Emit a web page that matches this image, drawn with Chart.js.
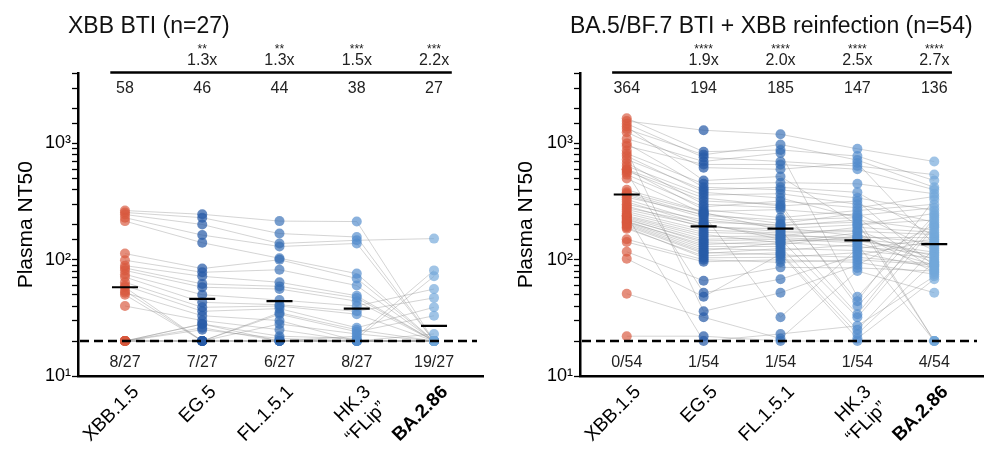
<!DOCTYPE html>
<html><head><meta charset="utf-8">
<script src="https://cdn.jsdelivr.net/npm/chart.js@4.4.0/dist/chart.umd.min.js"></script>
<style>
html,body{margin:0;padding:0;background:#fff;}
#wrap{display:flex;width:1000px;height:452px;}
canvas{display:block;}
</style></head><body>
<div id="wrap"><canvas id="c1" width="500" height="452"></canvas><canvas id="c2" width="500" height="452"></canvas></div>
<script>
// ---------- data ----------
const categories = ['XBB.1.5', 'EG.5', 'FL.1.5.1', ['HK.3', '\u201CFLip\u201D'], 'BA.2.86'];
const yTickLabels = {1: '10\u00B9', 2: '10\u00B2', 3: '10\u00B3'};
const lod = 20;

// Left panel: XBB BTI (n=27) - values per participant (same index = same person)
const leftTitle = 'XBB BTI (n=27)';
const L_XBB15 = [265,255,245,230,215,113,99,89,85,81,75,71,64,60,58,54,52,50,40,20,20,20,20,20,20,20,20];
const L_EG5   = [246,230,201,163,140,84,78,72,62,58,50,43,39,36,20,20,33,20,30,28,28,26,25,20,20,20,20];
const L_FL151 = [215,168,138,130,103,100,82,64,59,56,45,41,40,38,35,34,30,28,25,20,22,20,21,20,20,20,20];
const L_HK3   = [213,157,147,138,76,69,60,49,47,44,40,36,34,26,25,24,20,23,20,22,21,20,20,20,20,20,20];
const L_BA286 = [20,20,152,20,20,20,20,20,20,20,56,47,20,39,20,33,23,20,20,81,72,20,20,20,20,20,20];
const leftGM    = [58, 46, 44, 38, 27];
const leftFold  = ['', '1.3x', '1.3x', '1.5x', '2.2x'];
const leftStars = ['', '**', '**', '***', '***'];
const leftBelow = ['8/27', '7/27', '6/27', '8/27', '19/27'];

// Right panel: BA.5/BF.7 BTI + XBB reinfection (n=54)
const rightTitle = 'BA.5/BF.7 BTI + XBB reinfection (n=54)';
const R_XBB15 = [1650,1560,1480,1400,1330,1250,1100,1000,950,870,820,780,730,680,640,600,600,580,560,540,500,400,380,370,360,345,330,315,300,290,280,270,260,250,240,240,235,230,225,220,215,212,210,205,200,195,190,185,150,142,117,102,51,22];
const R_EG5   = [850,1300,760,480,800,620,700,420,660,36,450,380,400,300,360,340,270,320,52,285,250,260,255,240,230,245,210,200,220,190,205,195,180,172,165,20,158,150,140,145,130,135,125,120,116,113,104,108,100,96,66,48,32,22];
const R_FL151 = [880,1200,700,520,980,600,830,400,660,52,460,340,420,280,370,290,230,300,68,320,205,270,180,220,195,32,200,160,190,185,150,175,170,165,140,23,160,155,135,150,130,145,120,140,110,125,105,115,95,100,86,112,21,20];
const R_HK3   = [780,900,640,200,720,680,48,340,600,90,450,230,380,44,300,320,265,40,110,280,250,240,34,230,220,125,210,190,160,200,32,180,175,150,170,27,155,145,160,140,25,150,135,130,105,120,115,23,100,95,85,21,80,20];
const R_BA286 = [480,700,540,250,420,135,240,265,400,200,370,20,160,330,210,88,300,195,145,350,120,280,230,82,180,150,20,172,95,220,190,100,165,130,78,72,155,116,140,90,125,108,20,112,92,104,85,96,90,75,80,68,52,20];
const rightGM    = [364, 194, 185, 147, 136];
const rightFold  = ['', '1.9x', '2.0x', '2.5x', '2.7x'];
const rightStars = ['', '****', '****', '****', '****'];
const rightBelow = ['0/54', '1/54', '1/54', '1/54', '4/54'];

// ---------- styles ----------
const FONT = '"Liberation Sans", Arial, sans-serif';
const pointColors = ['rgba(216,88,62,0.68)', 'rgba(40,92,168,0.72)', 'rgba(55,110,182,0.68)', 'rgba(82,140,205,0.68)', 'rgba(115,168,218,0.68)'];

const annotPlugin = {
  id: 'annot',
  afterDatasetsDraw(chart) {
    const {ctx, chartArea, scales: {y}} = chart;
    const yy = y.getPixelForValue(lod);
    ctx.save();
    ctx.strokeStyle = '#000';
    ctx.lineWidth = 2.5;
    ctx.setLineDash([9, 5]);
    ctx.beginPath();
    ctx.moveTo(chartArea.left + 2, yy);
    ctx.lineTo(chartArea.right - 6, yy);
    ctx.stroke();
    ctx.restore();
  },
  afterDraw(chart) {
    const o = chart.options.plugins.annot;
    const {ctx, scales: {x}} = chart;
    ctx.save();
    ctx.fillStyle = '#111';
    ctx.textBaseline = 'alphabetic';
    ctx.textAlign = 'left';
    ctx.font = '23px ' + FONT;
    ctx.fillText(o.title, o.titleX, 33);
    // header rule
    ctx.strokeStyle = '#000';
    ctx.lineWidth = 2.5;
    ctx.beginPath();
    ctx.moveTo(x.getPixelForValue(-0.19), 72.5);
    ctx.lineTo(x.getPixelForValue(4.23), 72.5);
    ctx.stroke();
    ctx.textAlign = 'center';
    for (let i = 0; i < 5; i++) {
      const px = x.getPixelForValue(i);
      ctx.fillStyle = '#222';
      ctx.font = '16px ' + FONT;
      ctx.fillText(String(o.gm[i]), px, 93);
      ctx.fillText(o.fold[i], px, 65);
      ctx.fillText(o.below[i], px, 367);
      ctx.font = '12px ' + FONT;
      ctx.fillText(o.stars[i], px, 53);
    }
    ctx.restore();
  }
};

function buildChart(id, cols, gm, fold, stars, below, title, titleX, yWidth) {
  const n = cols[0].length;
  const datasets = [];
  datasets.push({
    data: gm.map((v, i) => ({x: i, y: v})),
    showLine: false, pointStyle: 'line', pointRadius: 13, pointHoverRadius: 13,
    pointBorderColor: '#000', pointBorderWidth: 2.2, borderColor: '#000', order: 0
  });
  cols.forEach((col, c) => {
    datasets.push({
      data: col.map(v => ({x: c, y: v})),
      showLine: false, pointRadius: 5, pointHoverRadius: 5,
      pointBackgroundColor: pointColors[c], pointBorderWidth: 0,
      backgroundColor: pointColors[c], borderColor: pointColors[c], order: 1
    });
  });
  for (let p = 0; p < n; p++) {
    datasets.push({
      data: cols.map((col, c) => ({x: c, y: col[p]})),
      borderColor: 'rgba(140,140,140,0.42)', borderWidth: 0.9,
      pointRadius: 0, pointHoverRadius: 0, tension: 0, order: 2
    });
  }
  return new Chart(document.getElementById(id), {
    type: 'line',
    data: {datasets},
    plugins: [annotPlugin],
    options: {
      responsive: false, animation: false, devicePixelRatio: 1, events: [],
      layout: {padding: {top: 73.5, right: 17, bottom: 0, left: 0}},
      plugins: {
        legend: {display: false}, tooltip: {enabled: false},
        annot: {gm, fold, stars, below, title, titleX}
      },
      scales: {
        x: {
          type: 'linear', min: -0.608, max: 4.634,
          afterBuildTicks: (s) => { s.ticks = [0, 1, 2, 3, 4].map(v => ({value: v})); },
          afterFit: (s) => { s.height = 76; },
          grid: {display: false},
          border: {display: true, color: '#000', width: 2.5},
          ticks: {
            autoSkip: false, minRotation: 45, maxRotation: 45, padding: -3, labelOffset: 11, color: '#000',
            callback: (v) => categories[v],
            font: (ctx) => ({family: FONT, size: 19, weight: ctx.index === 4 ? 'bold' : 'normal'})
          }
        },
        y: {
          type: 'logarithmic', min: 10, max: 4000,
          afterFit: (s) => { s.width = yWidth; },
          grid: {drawOnChartArea: false, drawTicks: true, tickLength: 6, tickColor: '#000', tickWidth: 1.3},
          border: {display: true, color: '#000', width: 2.5},
          title: {display: true, text: 'Plasma NT50', color: '#000', font: {family: FONT, size: 21}, padding: {top: 14, bottom: 0}},
          ticks: {
            autoSkip: false, padding: 1, color: '#000', font: {family: FONT, size: 18},
            callback: (v) => {
              const l = Math.log10(v);
              const r = Math.round(l);
              return Math.abs(l - r) < 1e-9 ? (yTickLabels[r] || '') : '';
            }
          }
        }
      }
    }
  });
}

buildChart('c1', [L_XBB15, L_EG5, L_FL151, L_HK3, L_BA286], leftGM, leftFold, leftStars, leftBelow, leftTitle, 68, 78);
buildChart('c2', [R_XBB15, R_EG5, R_FL151, R_HK3, R_BA286], rightGM, rightFold, rightStars, rightBelow, rightTitle, 70, 80);
</script>
</body></html>
